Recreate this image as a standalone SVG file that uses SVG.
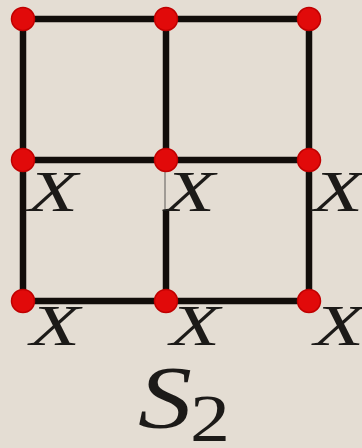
<svg xmlns="http://www.w3.org/2000/svg" width="362" height="448" viewBox="0 0 362 448">
<style>
.e{stroke:#120d0a;stroke-width:6.5;stroke-linecap:butt}
.n{fill:#e10a0a;stroke:#c00000;stroke-width:1.5}
.x{font-family:"Liberation Serif",serif;font-style:italic;font-size:56px;fill:#1c1a18}
.s{font-family:"Liberation Serif",serif;fill:#1c1a18}
</style>
<rect width="362" height="448" fill="#e4ddd3"/>
<g id="connectors">
<line class="e" x1="23" y1="19" x2="309" y2="19"/>
<line class="e" x1="23" y1="160" x2="309" y2="160"/>
<line class="e" x1="23" y1="301" x2="309" y2="301"/>
<line class="e" x1="23" y1="19" x2="23" y2="301"/>
<line class="e" x1="166" y1="19" x2="166" y2="160"/>
<line stroke="#8a8580" stroke-width="1.5" x1="165" y1="160" x2="165" y2="211"/>
<line class="e" x1="166" y1="211" x2="166" y2="301"/>
<line class="e" x1="309" y1="19" x2="309" y2="301"/>
</g>
<g id="n11"><circle class="n" cx="23" cy="19" r="11.5"/></g>
<g id="n12"><circle class="n" cx="166" cy="19" r="11.5"/></g>
<g id="n13"><circle class="n" cx="309" cy="19" r="11.5"/></g>
<g id="n21"><circle class="n" cx="23" cy="160" r="11.5"/><text class="x" x="28" y="211" textLength="50" lengthAdjust="spacingAndGlyphs">X</text></g>
<g id="n22"><circle class="n" cx="166" cy="160" r="11.5"/><text class="x" x="165" y="211" textLength="50" lengthAdjust="spacingAndGlyphs">X</text></g>
<g id="n23"><circle class="n" cx="309" cy="160" r="11.5"/><text class="x" x="313" y="211" textLength="50" lengthAdjust="spacingAndGlyphs">X</text></g>
<g id="n31"><circle class="n" cx="23" cy="301" r="11.5"/><text class="x" x="30" y="345" textLength="50" lengthAdjust="spacingAndGlyphs">X</text></g>
<g id="n32"><circle class="n" cx="166" cy="301" r="11.5"/><text class="x" x="170" y="345" textLength="50" lengthAdjust="spacingAndGlyphs">X</text></g>
<g id="n33"><circle class="n" cx="309" cy="301" r="11.5"/><text class="x" x="314" y="345" textLength="50" lengthAdjust="spacingAndGlyphs">X</text></g>
<g id="label"><text class="s" x="138" y="427" font-size="88" font-style="italic" textLength="54" lengthAdjust="spacingAndGlyphs">S</text><text class="s" x="190" y="441" font-size="68" textLength="40" lengthAdjust="spacingAndGlyphs">2</text></g>
</svg>
